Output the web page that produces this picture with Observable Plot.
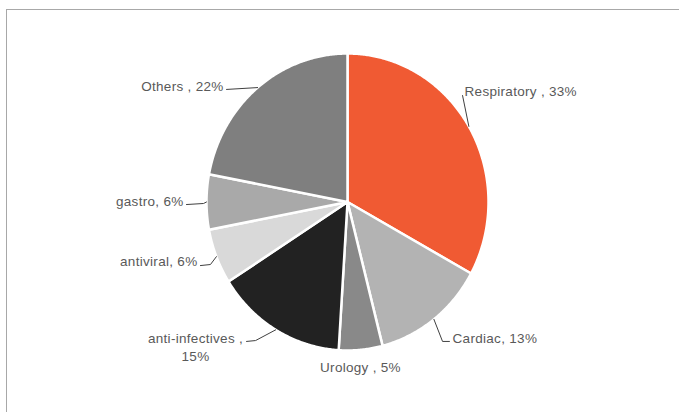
<!DOCTYPE html>
<html><head><meta charset="utf-8">
<script src="https://cdn.jsdelivr.net/npm/d3@7"></script>
<script src="https://cdn.jsdelivr.net/npm/@observablehq/plot@0.6"></script>
<style>
html,body{margin:0;padding:0;background:#fff;}
#wrap{position:relative;width:679px;height:412px;overflow:hidden;}
#frame{position:absolute;left:6px;top:9px;width:720px;height:440px;border-top:1.5px solid #a8a8a8;border-left:1.5px solid #a8a8a8;pointer-events:none;}
#wrap svg{position:absolute;left:0;top:0;}
</style></head><body><div id="wrap"><div id="frame"></div></div>
<script>
// ---- data ----
const categories = ["Respiratory", "Cardiac", "Urology", "anti-infectives", "antiviral", "gastro", "Others"];
const shares = [33, 13, 5, 15, 6, 6, 22];
const labels = ["Respiratory , 33%", "Cardiac, 13%", "Urology , 5%", "anti-infectives ,\n15%", "antiviral, 6%", "gastro, 6%", "Others , 22%"];
const colors = ["#F05A33", "#B3B3B3", "#898989", "#222222", "#D9D9D9", "#A9A9A9", "#7F7F7F"];

// ---- label layout (in pie-radius units) ----
const labelLayout = [
  {tx: 0.830, ty: 0.751, anchor: "start", knee: null, end: [0.816, 0.717]},
  {tx: 0.745, ty: -0.912, anchor: "start", knee: [0.674, -0.939], end: [0.723, -0.939]},
  {tx: 0.092, ty: -1.108, anchor: "middle", knee: null, end: null},
  {tx: -1.078, ty: -0.973, anchor: "middle", knee: [-0.652, -0.933], end: [-0.716, -0.939]},
  {tx: -1.064, ty: -0.394, anchor: "end", knee: [-0.972, -0.421], end: [-1.043, -0.428]},
  {tx: -1.163, ty: 0.010, anchor: "end", knee: [-1.021, -0.010], end: [-1.142, -0.017]},
  {tx: -0.879, ty: 0.785, anchor: "end", knee: null, end: [-0.858, 0.758]}
];

const arcs = d3.pie().sort(null).value(d => d)(shares);

const slicePts = [];
const leaderPts = [];
const labelRows = [];
arcs.forEach((p, i) => {
  const name = categories[i];
  slicePts.push({name, x: 0, y: 0});
  const span = p.endAngle - p.startAngle;
  const n = Math.max(2, Math.ceil(span / (Math.PI / 360)));
  for (let k = 0; k <= n; k++) {
    const a = p.startAngle + span * k / n;
    slicePts.push({name, x: Math.sin(a), y: Math.cos(a)});
  }
  slicePts.push({name, x: 0, y: 0});
  const L = labelLayout[i];
  const mid = (p.startAngle + p.endAngle) / 2;
  if (L.end) {
    leaderPts.push({name, x: Math.sin(mid), y: Math.cos(mid)});
    if (L.knee) leaderPts.push({name, x: L.knee[0], y: L.knee[1]});
    leaderPts.push({name, x: L.end[0], y: L.end[1]});
  }
  labelRows.push({name, label: labels[i], tx: L.tx, ty: L.ty, anchor: L.anchor});
});

const textOpts = {x: "tx", y: "ty", text: "label", fill: "#595959", fontSize: 13.5, lineHeight: 1.33};

const chart = Plot.plot({
  width: 679, height: 412,
  marginLeft: 206, marginRight: 191, marginTop: 53, marginBottom: 62,
  x: {domain: [-1, 1], axis: null},
  y: {domain: [-1, 1], axis: null},
  color: {domain: categories, range: colors},
  style: {fontFamily: "'Liberation Sans', Arial, sans-serif", fontSize: "13.5px", letterSpacing: "0.3px", background: "transparent", overflow: "visible"},
  marks: [
    Plot.line(slicePts, {x: "x", y: "y", z: "name", fill: "name", stroke: "white", strokeWidth: 2.5, strokeLinejoin: "round", curve: "linear"}),
    Plot.line(leaderPts, {x: "x", y: "y", z: "name", stroke: "#404040", strokeWidth: 1, curve: "linear"}),
    Plot.text(labelRows.filter(d => d.anchor === "start"), {...textOpts, textAnchor: "start"}),
    Plot.text(labelRows.filter(d => d.anchor === "middle"), {...textOpts, textAnchor: "middle"}),
    Plot.text(labelRows.filter(d => d.anchor === "end"), {...textOpts, textAnchor: "end"})
  ]
});
document.getElementById("wrap").appendChild(chart);
</script>
</body></html>
